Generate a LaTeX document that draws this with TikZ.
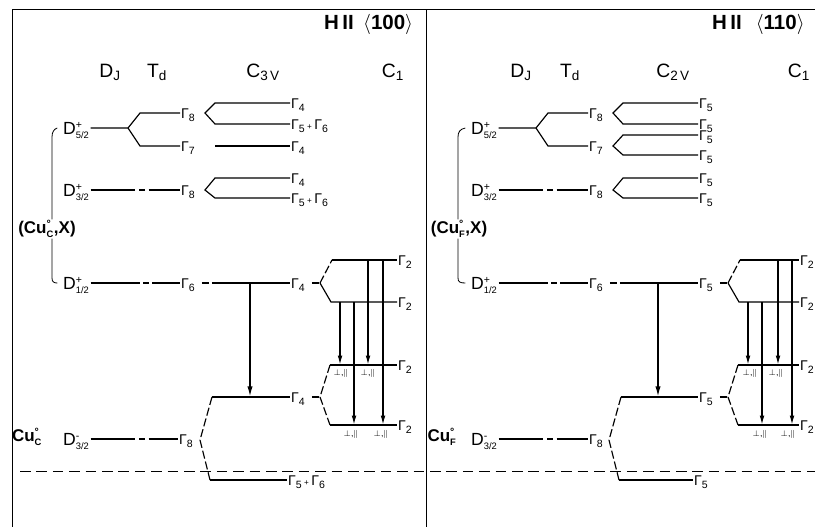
\documentclass[tikz,border=0pt]{standalone}
\usepackage{fontspec}
\setmainfont{Liberation Sans}
\usetikzlibrary{arrows.meta}

\tikzset{
  lvl/.style={line width=1pt},
  chainlvl/.style={lvl, dash pattern=on 38pt off 3.5pt on 4.5pt off 3.5pt on 200pt},
  brk/.style={lvl, dash pattern=on 7pt off 2.5pt},
  gam/.style={anchor=west, inner sep=0.8pt, text height=8.6pt, text depth=0pt,
              font=\fontsize{12}{12}\selectfont},
  term/.style={anchor=west, inner sep=0.8pt, text height=11pt, text depth=0pt,
               font=\fontsize{15}{16}\selectfont},
  head/.style={font=\fontsize{16.5}{18}\selectfont},
  titl/.style={anchor=west, font=\fontsize{17.5}{18}\selectfont\bfseries},
  defect/.style={inner sep=0.5pt, font=\fontsize{14.5}{16}\selectfont\bfseries},
  pol/.style={inner sep=0pt, font=\fontsize{7.5}{8}\selectfont},
  trans/.style={line width=1.4pt, -{Latex[length=9pt,width=4.5pt]}},
  strans/.style={line width=1.2pt, -{Latex[length=8pt,width=4pt]}},
}
\newcommand\lev[3]{#1$^{\mbox{\fontsize{9}{9}\selectfont#2}}_{\mbox{\fontsize{8}{8}\selectfont#3}}$}
\newcommand\Gm[1]{Γ\raisebox{-2.8pt}{\fontsize{9}{9}\selectfont#1}}

\begin{document}
\begin{tikzpicture}[x=0.03cm, y=-0.03cm]
\useasboundingbox (0,0) rectangle (815,527);
% frame
\draw[line width=0.8pt] (12,9) -- (815,9);
\draw[line width=0.8pt] (12,9) -- (12,527);
\draw[line width=0.8pt] (426,9) -- (426,527);
% ground state
\draw[line width=0.7pt, dash pattern=on 9pt off 5pt] (20,471) -- (815,471);

% ---- H II (100)
\node[titl] (ttl) at (320,24) {H\,II\hspace{8pt}$\langle$100$\rangle$};
\node[head] (dj) at (110,72) {D\textsubscript{J}};
\node[head] (td) at (157,72) {T\textsubscript{d}};
\node[head] (cv) at (263,72) {C\textsubscript{3\,V}};
\node[head] (ca) at (393,72) {C\textsubscript{1}};

\node[term] (d52) at (62,128) {\lev{D}{+}{5/2}};
\node[term] (d32) at (62,190) {\lev{D}{+}{3/2}};
\node[term] (d12) at (62,283) {\lev{D}{+}{1/2}};
\node[term] (dm) at (62,439) {\lev{D}{-}{3/2}};
\node[defect] (cux) at (47,229) {(\lev{Cu}{°}{C},X)};
\node[defect] (cu) at (27,437) {\lev{Cu}{°}{C}};
\coordinate (bx) at (52,0);
\draw[line width=0.7pt] ([xshift=-4pt]d52.west) .. controls (54,129) and (52,132) .. (52,137) -- (cux.north -| bx);
\draw[line width=0.7pt] (cux.south -| bx) -- (52,278) .. controls (52,282) and (54,283) .. ([xshift=-4pt]d12.west);

\node[gam] (g8a) at (180,113) {\Gm8};
\node[gam] (g7) at (180,146) {\Gm7};
\node[gam] (g8b) at (180,190) {\Gm8};
\node[gam] (ga) at (290,103) {\Gm4};
\node[gam] (gb) at (290,124) {\Gm5\,{\scriptsize+}\,\Gm6};
\node[gam] (gc) at (290,146) {\Gm4};
\node[gam] (gd) at (290,178) {\Gm4};
\node[gam] (ge) at (290,198) {\Gm5\,{\scriptsize+}\,\Gm6};
\node[gam] (g6) at (180,283) {\Gm6};
\node[gam] (g4u) at (290,283) {\Gm4};
\node[gam] (g4l) at (290,397) {\Gm4};
\node[gam] (g8c) at (178,439) {\Gm8};
\node[gam] (g56) at (287,480) {\Gm5\,{\scriptsize+}\,\Gm6};
\node[gam] (k1) at (397,260) {\Gm2};
\node[gam] (k2) at (397,302) {\Gm2};
\node[gam] (k3) at (397,365) {\Gm2};
\node[gam] (k4) at (397,425) {\Gm2};

\draw[lvl] (d52.east) -- (128,128) -- (140,113) -- (g8a.west);
\draw[lvl] (128,128) -- (140,146) -- (g7.west);
\draw[lvl] (ga.west) -- (215,103) -- (205,113) -- (215,124) -- (gb.west);
\draw[lvl] (215,146) -- (gc.west);
\draw[chainlvl] (d32.east) -- (g8b.west);
\draw[lvl] (gd.west) -- (215,178) -- (205,190) -- (215,198) -- (ge.west);

\draw[lvl, dash pattern=on 42pt off 3pt on 4.5pt off 3pt on 200pt] (d12.east) -- (g6.west);
\draw[lvl, dash pattern=on 0pt off 5pt on 6pt off 2.5pt on 200pt] (g6.east) -- (g4u.west);
\draw[lvl, dash pattern=on 0pt off 5pt on 6pt off 20pt] (g4u.east) -- (320,283);
\draw[brk] (320,283) -- (332,260);
\draw[lvl] (332,260) -- (k1.west);
\draw[lvl] (320,283) -- (331,302) -- (k2.west);
\draw[lvl] (212,397) -- (g4l.west);
\draw[lvl, dash pattern=on 0pt off 5pt on 6pt off 20pt] (g4l.east) -- (320,397);
\draw[brk] (330,365) -- (320,397) -- (330,425);
\draw[lvl] (330,365) -- (k3.west);
\draw[lvl] (330,425) -- (k4.west);
\draw[chainlvl] (dm.east) -- (g8c.west);
\draw[brk] (212,397) -- (200,440) -- (210,480);
\draw[lvl] (210,480) -- (g56.west);

\draw[trans] (250,283) -- (250,397);
\foreach \x/\a/\b in {340/302/365, 354/302/425, 368/260/365, 383/260/425}
  \draw[strans] (\x,\a) -- (\x,\b);
\node[pol] (p1) at (341,373) {$\perp$,$\parallel$};
\node[pol] (p2) at (368,373) {$\perp$,$\parallel$};
\node[pol] (p3) at (351,434) {$\perp$,$\parallel$};
\node[pol] (p4) at (381,434) {$\perp$,$\parallel$};

% ---- H II (110)
\begin{scope}[shift={(408,0)}]
\node[titl] (rttl) at (300,24) {H\,II\hspace{12pt}$\langle$110$\rangle$};
\node[head] (rdj) at (113,72) {D\textsubscript{J}};
\node[head] (rtd) at (162,72) {T\textsubscript{d}};
\node[head] (rcv) at (265,72) {C\textsubscript{2\,V}};
\node[head] (rca) at (391,72) {C\textsubscript{1}};

\node[term] (rd52) at (62,128) {\lev{D}{+}{5/2}};
\node[term] (rd32) at (62,190) {\lev{D}{+}{3/2}};
\node[term] (rd12) at (62,283) {\lev{D}{+}{1/2}};
\node[term] (rdm) at (62,439) {\lev{D}{-}{3/2}};
\node[defect] (rcux) at (51,229) {(\lev{Cu}{°}{F},X)};
\node[defect] (rcu) at (34,437) {\lev{Cu}{°}{F}};
\coordinate (rbx) at (50,0);
\draw[line width=0.7pt] ([xshift=-4pt]rd52.west) .. controls (52,129) and (50,132) .. (50,137) -- (rcux.north -| rbx);
\draw[line width=0.7pt] (rcux.south -| rbx) -- (50,278) .. controls (50,282) and (52,283) .. ([xshift=-4pt]rd12.west);

\node[gam] (rg8a) at (180,113) {\Gm8};
\node[gam] (rg7) at (180,146) {\Gm7};
\node[gam] (rg8b) at (180,190) {\Gm8};
\node[gam] (rga) at (290,103) {\Gm5};
\node[gam] (rgb) at (290,124) {\Gm5};
\node[gam] (rgc) at (290,135) {\Gm5};
\node[gam] (rgd) at (290,155) {\Gm5};
\node[gam] (rge) at (290,178) {\Gm5};
\node[gam] (rgf) at (290,198) {\Gm5};
\node[gam] (rg6) at (180,283) {\Gm6};
\node[gam] (rg5u) at (290,283) {\Gm5};
\node[gam] (rg5l) at (290,397) {\Gm5};
\node[gam] (rg8c) at (180,439) {\Gm8};
\node[gam] (rg5b) at (285,480) {\Gm5};
\node[gam] (rk1) at (391,260) {\Gm2};
\node[gam] (rk2) at (391,302) {\Gm2};
\node[gam] (rk3) at (391,365) {\Gm2};
\node[gam] (rk4) at (391,425) {\Gm2};

\draw[lvl] (rd52.east) -- (128,128) -- (140,113) -- (rg8a.west);
\draw[lvl] (128,128) -- (140,146) -- (rg7.west);
\draw[lvl] (rga.west) -- (215,103) -- (205,113) -- (215,124) -- (rgb.west);
\draw[lvl] (rgc.west) -- (215,135) -- (205,146) -- (215,155) -- (rgd.west);
\draw[chainlvl] (rd32.east) -- (rg8b.west);
\draw[lvl] (rge.west) -- (215,178) -- (205,190) -- (215,198) -- (rgf.west);

\draw[lvl, dash pattern=on 42pt off 3pt on 4.5pt off 3pt on 200pt] (rd12.east) -- (rg6.west);
\draw[lvl, dash pattern=on 0pt off 5pt on 6pt off 2.5pt on 200pt] (rg6.east) -- (rg5u.west);
\draw[lvl, dash pattern=on 0pt off 5pt on 6pt off 20pt] (rg5u.east) -- (320,283);
\draw[brk] (320,283) -- (332,260);
\draw[lvl] (332,260) -- (rk1.west);
\draw[lvl] (320,283) -- (331,302) -- (rk2.west);
\draw[lvl] (213,397) -- (rg5l.west);
\draw[lvl, dash pattern=on 0pt off 5pt on 6pt off 20pt] (rg5l.east) -- (320,397);
\draw[brk] (330,365) -- (320,397) -- (330,425);
\draw[lvl] (330,365) -- (rk3.west);
\draw[lvl] (330,425) -- (rk4.west);
\draw[chainlvl] (rdm.east) -- (rg8c.west);
\draw[brk] (213,397) -- (201,440) -- (211,480);
\draw[lvl] (211,480) -- (rg5b.west);

\draw[trans] (250,283) -- (250,397);
\foreach \x/\a/\b in {340/302/365, 354/302/425, 370/260/365, 384/260/425}
  \draw[strans] (\x,\a) -- (\x,\b);
\node[pol] (rp1) at (342,373) {$\perp$,$\parallel$};
\node[pol] (rp2) at (368,373) {$\perp$,$\parallel$};
\node[pol] (rp3) at (352,434) {$\perp$,$\parallel$};
\node[pol] (rp4) at (380,434) {$\perp$,$\parallel$};
\end{scope}
\end{tikzpicture}
\end{document}
